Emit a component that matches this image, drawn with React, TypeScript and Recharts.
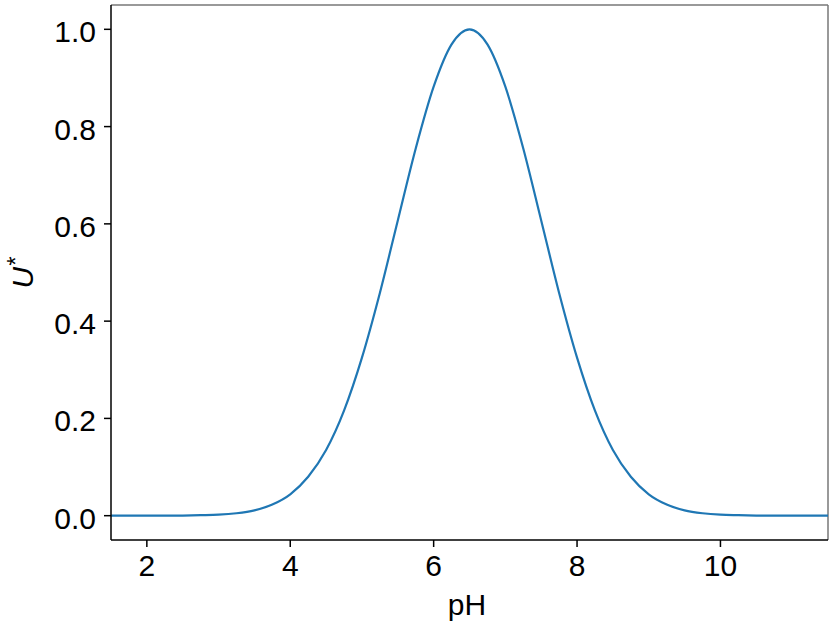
import React from "react";
import {
  LineChart,
  Line,
  XAxis,
  YAxis,
  ReferenceLine,
  Label,
} from "recharts";

// pH sample points and the U* values
const PH = [
  1.5, 1.75, 2, 2.25, 2.5, 2.75, 3, 3.25, 3.5, 3.75, 4, 4.25, 4.5, 4.75, 5,
  5.25, 5.5, 5.75, 6, 6.25, 6.5, 6.75, 7, 7.25, 7.5, 7.75, 8, 8.25, 8.5, 8.75,
  9, 9.25, 9.5, 9.75, 10, 10.25, 10.5, 10.75, 11, 11.25, 11.5,
];
const U_STAR = [
  0, 0, 0, 0, 0.0003, 0.001, 0.002, 0.005, 0.011, 0.023, 0.044, 0.08, 0.135,
  0.216, 0.325, 0.458, 0.607, 0.755, 0.882, 0.969, 1.0, 0.969, 0.882, 0.755,
  0.607, 0.458, 0.325, 0.216, 0.135, 0.08, 0.044, 0.023, 0.011, 0.005, 0.002,
  0.001, 0.0003, 0, 0, 0, 0,
];
const X_TICKS = [2, 4, 6, 8, 10];
const Y_TICKS = [0, 0.2, 0.4, 0.6, 0.8, 1.0];

const data = PH.map((ph, i) => ({ ph, u: U_STAR[i] }));

const FONT = "'Liberation Sans', Arial, sans-serif";
const FS = 30;

const XTick = ({ x, y, payload }: any) => (
  <text x={x} y={y + 22} textAnchor="middle" fontSize={FS} fontFamily={FONT} fill="#000">
    {payload.value}
  </text>
);

const YTick = ({ x, y, payload }: any) => (
  <text x={x} y={y + 13} textAnchor="end" fontSize={FS} fontFamily={FONT} fill="#000">
    {Number(payload.value).toFixed(1)}
  </text>
);

const App: React.FC = () => {
  return (
    <div style={{ position: "absolute", left: 0, top: 0, width: 833, height: 633, background: "#fff" }}>
      <LineChart
        width={833}
        height={633}
        data={data}
        margin={{ top: 5, right: 5, bottom: 0, left: 0 }}
      >
        <XAxis
          dataKey="ph"
          type="number"
          domain={[1.5, 11.5]}
          ticks={X_TICKS}
          allowDataOverflow
          height={93}
          stroke="#000"
          strokeWidth={1.5}
          tickSize={7}
          tickMargin={7}
          tick={<XTick />}
        >
          <Label
            content={() => (
              <text x={467} y={615} textAnchor="middle" fontSize={FS} fontFamily={FONT} fill="#000">
                pH
              </text>
            )}
          />
        </XAxis>
        <YAxis
          type="number"
          domain={[-0.05, 1.05]}
          ticks={Y_TICKS}
          allowDataOverflow
          width={111}
          stroke="#000"
          strokeWidth={1.5}
          tickSize={7}
          tickMargin={8}
          tick={<YTick />}
        >
          <Label
            content={() => {
              const cx = 33;
              const cy = 273;
              return (
                <text
                  x={cx}
                  y={cy}
                  transform={`rotate(-90 ${cx} ${cy})`}
                  textAnchor="middle"
                  fontSize={FS}
                  fontFamily={FONT}
                  fill="#000"
                >
                  <tspan fontStyle="italic">U</tspan>
                  <tspan fontStyle="italic" dy={-9} fontSize={24}>*</tspan>
                </text>
              );
            }}
          />
        </YAxis>
        <ReferenceLine y={1.05} stroke="#777" strokeWidth={1.5} />
        <ReferenceLine x={11.5} stroke="#777" strokeWidth={1.5} />
        <Line
          type="monotone"
          dataKey="u"
          stroke="#1f77b4"
          strokeWidth={2.2}
          dot={false}
          isAnimationActive={false}
        />
      </LineChart>
    </div>
  );
};

export default App;
